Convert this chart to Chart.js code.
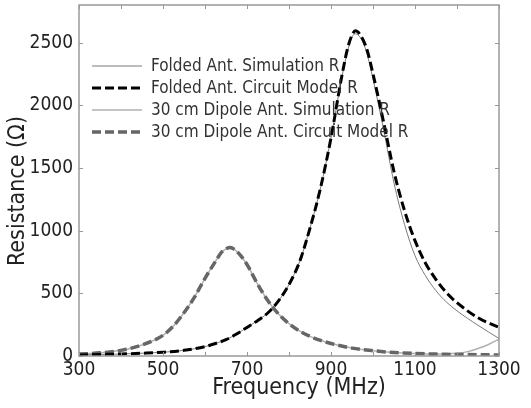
<!DOCTYPE html>
<html>
<head>
<meta charset="utf-8">
<script src="https://cdn.jsdelivr.net/npm/chart.js@4.4.1/dist/chart.umd.min.js"></script>
<style>
  html, body { margin: 0; padding: 0; background: #fff; }
  #wrap { width: 531px; height: 408px; }
</style>
</head>
<body>
<div id="wrap"><canvas id="resChart" width="531" height="408"></canvas></div>
<script>
// Folded antenna curves (frequency in MHz, resistance in Ohm)
const foldedFreq = [300, 350, 400, 450, 500, 550, 600, 625, 650, 675, 700, 725, 750, 775, 800, 825, 850, 875, 900, 925,
                    940, 950, 958, 970, 985, 1000, 1025, 1050, 1075, 1100, 1125, 1150, 1175, 1200, 1250, 1300];
const foldedSim = [8, 12, 16, 22, 30, 45, 75, 100, 130, 175, 228, 282, 345, 440, 570, 750, 1020, 1340, 1740, 2210,
                   2440, 2545, 2570, 2540, 2420, 2210, 1810, 1380, 1050, 800, 640, 520, 430, 360, 245, 140];
const foldedModel = [8, 12, 16, 22, 30, 45, 75, 100, 130, 175, 228, 282, 345, 440, 570, 750, 1020, 1340, 1740, 2220,
                     2460, 2560, 2594, 2560, 2450, 2250, 1870, 1470, 1160, 920, 740, 610, 505, 425, 305, 228];

// 30 cm dipole curves
const dipoleFreq = [300, 350, 400, 450, 500, 525, 550, 575, 600, 625, 640, 650, 660, 670, 685, 700, 725, 750,
                    775, 800, 825, 850, 875, 900, 950, 1000, 1050, 1100, 1150, 1175, 1200, 1225, 1250, 1275, 1300];
const dipoleSim = [15, 25, 45, 88, 165, 240, 345, 470, 620, 755, 830, 855, 865, 850, 800, 730, 575, 440,
                   335, 258, 200, 157, 125, 100, 63, 42, 28, 20, 16, 17, 22, 35, 60, 92, 135];
const dipoleModel = [15, 25, 45, 88, 165, 240, 345, 470, 620, 755, 830, 855, 865, 850, 800, 730, 575, 440,
                     335, 258, 200, 157, 125, 100, 63, 42, 28, 20, 15, 13, 12, 11, 10, 9, 8];

const seriesNames = [
    'Folded Ant. Simulation R',
    'Folded Ant. Circuit Model R',
    '30 cm Dipole Ant. Simulation R',
    '30 cm Dipole Ant. Circuit Model R'
];

// Axis ticks
const xTicks = [300, 400, 500, 600, 700, 800, 900, 1000, 1100, 1200, 1300];
const xTickLabels = [300, 500, 700, 900, 1100, 1300];
const yTicks = [0, 500, 1000, 1500, 2000, 2500];

const FONT = "'DejaVu Sans Condensed', 'DejaVu Sans', sans-serif";
const AXIS_COLOR = '#999';

function toPoints(xs, ys) {
    return xs.map((f, i) => ({ x: f, y: ys[i] }));
}

// inward tick marks on all four sides of the box, plus the axis titles
const frameTicks = {
    id: 'frameTicks',
    afterDraw(chart) {
        const { ctx, chartArea: a, scales } = chart;
        ctx.save();
        ctx.strokeStyle = AXIS_COLOR;
        ctx.lineWidth = 1;
        ctx.beginPath();
        xTicks.forEach(v => {
            const px = Math.round(scales.x.getPixelForValue(v)) + 0.5;
            ctx.moveTo(px, a.bottom); ctx.lineTo(px, a.bottom - 4);
            ctx.moveTo(px, a.top); ctx.lineTo(px, a.top + 4);
        });
        yTicks.forEach(v => {
            const py = Math.round(scales.y.getPixelForValue(v)) + 0.5;
            ctx.moveTo(a.left, py); ctx.lineTo(a.left + 4, py);
            ctx.moveTo(a.right, py); ctx.lineTo(a.right - 4, py);
        });
        ctx.stroke();
        ctx.lineWidth = 1.5;
        ctx.strokeRect(a.left, a.top, a.right - a.left, a.bottom - a.top);

        ctx.fillStyle = '#222';
        ctx.font = '23px ' + FONT;
        ctx.textAlign = 'center';
        ctx.textBaseline = 'middle';
        ctx.fillText('Frequency (MHz)', 299, 388);
        ctx.translate(18, 191);
        ctx.rotate(-Math.PI / 2);
        ctx.fillText('Resistance (Ω)', 0, 0);
        ctx.restore();
    }
};

// legend drawn inside the plot, top left
const insideLegend = {
    id: 'insideLegend',
    afterDatasetsDraw(chart) {
        const { ctx } = chart;
        const x0 = 92, x1 = 142, tx = 151;
        const rows = [66, 88, 110, 132];
        ctx.save();
        chart.data.datasets.forEach((ds, i) => {
            const y = rows[i];
            ctx.strokeStyle = ds.borderColor;
            ctx.lineWidth = ds.borderWidth;
            ctx.setLineDash(ds.borderDash || []);
            ctx.beginPath();
            ctx.moveTo(x0, y);
            ctx.lineTo(x1, y);
            ctx.stroke();
            ctx.setLineDash([]);
            ctx.fillStyle = '#333';
            ctx.font = '17px ' + FONT;
            ctx.textBaseline = 'middle';
            ctx.fillText(ds.label, tx, y + 1);
        });
        ctx.restore();
    }
};

const ctx = document.getElementById('resChart').getContext('2d');
const chart = new Chart(ctx, {
    type: 'line',
    data: {
        datasets: [{
            label: seriesNames[0],
            data: toPoints(foldedFreq, foldedSim),
            borderColor: '#7a7a7a',
            borderWidth: 1,
            order: 2
        }, {
            label: seriesNames[1],
            data: toPoints(foldedFreq, foldedModel),
            borderColor: '#000',
            borderWidth: 3,
            borderDash: [9, 4],
            order: 0
        }, {
            label: seriesNames[2],
            data: toPoints(dipoleFreq, dipoleSim),
            borderColor: '#b0b0b0',
            borderWidth: 1.5,
            order: 2
        }, {
            label: seriesNames[3],
            data: toPoints(dipoleFreq, dipoleModel),
            borderColor: '#666',
            borderWidth: 3.5,
            borderDash: [9, 4],
            order: 1
        }]
    },
    options: {
        responsive: false,
        animation: false,
        layout: { padding: { top: 5, right: 32, left: 0, bottom: 0 } },
        elements: {
            point: { radius: 0 },
            line: { cubicInterpolationMode: 'monotone', fill: false }
        },
        plugins: {
            legend: { display: false },
            tooltip: { enabled: false }
        },
        scales: {
            x: {
                type: 'linear',
                min: 300,
                max: 1300,
                afterBuildTicks: s => { s.ticks = xTicks.map(v => ({ value: v })); },
                afterFit: s => { s.height = 52; s.paddingLeft = 0; s.paddingRight = 0; },
                grid: { display: false, drawTicks: false },
                border: { display: false },
                ticks: {
                    autoSkip: false,
                    maxRotation: 0,
                    padding: 3,
                    color: '#222',
                    font: { family: FONT, size: 19 },
                    callback: v => xTickLabels.includes(v) ? String(v) : ''
                }
            },
            y: {
                min: 0,
                max: 2800,
                afterBuildTicks: s => { s.ticks = yTicks.map(v => ({ value: v })); },
                afterFit: s => { s.width = 79; s.paddingTop = 0; s.paddingBottom = 0; },
                grid: { display: false, drawTicks: false },
                border: { display: false },
                ticks: {
                    padding: 6,
                    color: '#222',
                    font: { family: FONT, size: 19 },
                    callback: v => String(v)
                }
            }
        }
    },
    plugins: [frameTicks, insideLegend]
});
</script>
</body>
</html>
